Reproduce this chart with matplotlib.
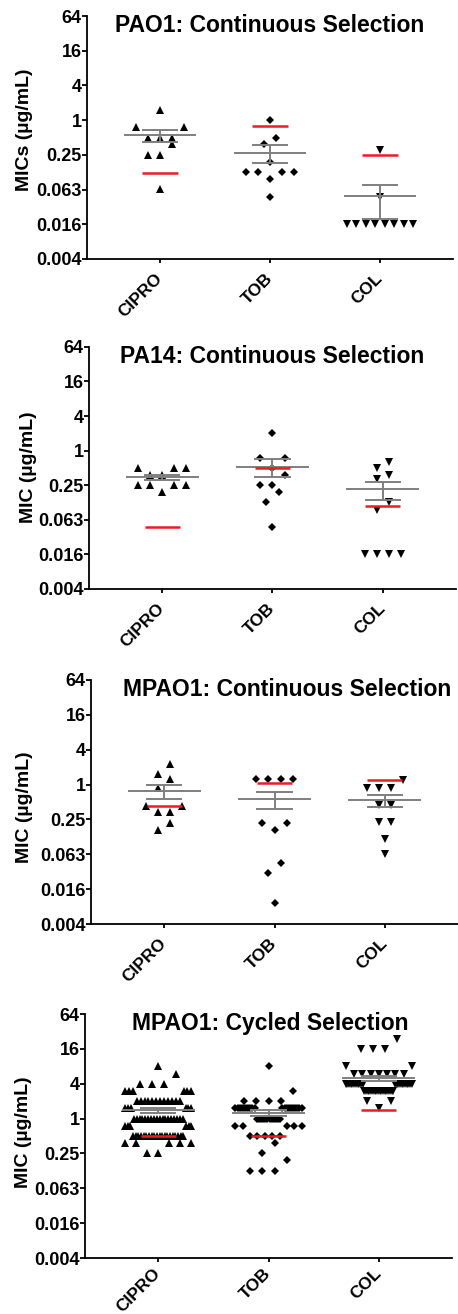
import numpy as np
import matplotlib
matplotlib.use("Agg")
import matplotlib.pyplot as plt
from matplotlib.ticker import FixedLocator, FixedFormatter, NullLocator
from matplotlib.transforms import ScaledTranslation

# ---- data (MIC values, ug/mL) ----
DRUGS = ["CIPRO", "TOB", "COL"]
Y_TICKS = [0.00390625, 0.015625, 0.0625, 0.25, 1, 4, 16, 64]
Y_TICK_LABELS = ["0.004", "0.016", "0.063", "0.25", "1", "4", "16", "64"]

TITLES = ["PAO1: Continuous Selection", "PA14: Continuous Selection",
          "MPAO1: Continuous Selection", "MPAO1: Cycled Selection"]
YLABELS = ["MICs (µg/mL)", "MIC (µg/mL)", "MIC (µg/mL)", "MIC (µg/mL)"]

PAO1_CIPRO = [1.5, 0.75, 0.75, 0.5, 0.5, 0.5, 0.38, 0.25, 0.25, 0.064]
PAO1_TOB = [1.0, 0.5, 0.38, 0.19, 0.125, 0.125, 0.125, 0.125, 0.094, 0.047]
PAO1_COL = [0.3, 0.047, 0.016, 0.016, 0.016, 0.016, 0.016, 0.016, 0.016, 0.016]
PAO1_REF = [0.12, 0.8, 0.25]

PA14_CIPRO = [0.5, 0.5, 0.5, 0.38, 0.38, 0.25, 0.25, 0.25, 0.25, 0.19]
PA14_TOB = [2.0, 0.75, 0.75, 0.5, 0.38, 0.25, 0.25, 0.19, 0.125, 0.047]
PA14_COL = [0.64, 0.5, 0.38, 0.32, 0.125, 0.094, 0.016, 0.016, 0.016, 0.016]
PA14_REF = [0.047, 0.5, 0.11]

MPAO1_CIPRO = [2.3, 1.5, 1.25, 0.86, 0.43, 0.43, 0.33, 0.33, 0.22, 0.165]
MPAO1_TOB = [1.25, 1.25, 1.25, 1.25, 0.22, 0.22, 0.165, 0.044, 0.03, 0.009]
MPAO1_COL = [1.2, 0.88, 0.88, 0.88, 0.44, 0.44, 0.23, 0.23, 0.114, 0.062]
MPAO1_REF = [0.43, 1.08, 1.22]

# cycled selection: MIC levels and how many isolates sit at each level
CYC_CIPRO_MIC = [8, 6, 4, 3, 2, 1.5, 1, 0.75, 0.5, 0.38, 0.25]
CYC_CIPRO_N = [1, 1, 3, 6, 12, 6, 18, 6, 20, 5, 2]
CYC_TOB_MIC = [8, 3, 2, 1.5, 1, 0.75, 0.5, 0.38, 0.25, 0.19, 0.125]
CYC_TOB_N = [1, 1, 4, 20, 12, 5, 5, 1, 1, 1, 3]
CYC_COL_MIC = [24, 16, 8, 6, 4, 3, 2, 1.5]
CYC_COL_N = [1, 3, 2, 7, 22, 18, 2, 1]
CYC_REF = [0.5, 0.5, 1.38]

# ---- layout ----
PANEL_RECTS = [
    [0.1900, 0.8029, 0.7991, 0.1849],
    [0.1943, 0.5518, 0.8013, 0.1842],
    [0.1987, 0.2968, 0.8013, 0.1857],
    [0.1856, 0.0426, 0.8013, 0.1857],
]
TITLE_X = [0.5, 0.5, 0.534, 0.505]
YLABEL_POS = [(-0.148, 0.53), (-0.142, 0.505), (-0.158, 0.48), (-0.144, 0.516)]
XLABEL_PAD = [9.5, 9.5, 9.5, 6.5]
MARKERS = [("^", 6.0), ("D", 3.9), ("v", 6.0)]
GREY = "#7f7f7f"
RED = "#ec1c24"

plt.rcParams["font.family"] = ["Liberation Sans", "DejaVu Sans"]
plt.rcParams["font.weight"] = "bold"
plt.rcParams["axes.labelweight"] = "bold"


def scatter_offsets(vals, step=0.11, half=0.30, join=0.62):
    """Prism-like column scatter: nearby values share a row, lowest in the middle."""
    logv = np.log2(vals)
    order = np.argsort(vals, kind="stable")
    offsets = np.zeros(len(vals))
    i = 0
    while i < len(order):
        start = logv[order[i]]
        j = i
        while j < len(order) and logv[order[j]] - start < join:
            j += 1
        idx = order[i:j]
        n = len(idx)
        gap = step if n < 2 else min(step, 2 * half / (n - 1))
        for k, p in enumerate(idx):
            if n % 2:
                slot = (k + 1) // 2 * (-1 if k % 2 else 1)
            else:
                slot = (k // 2 + 0.5) * (-1 if k % 2 == 0 else 1)
            offsets[p] = slot * gap
        i = j
    return offsets


def draw_panel(fig, ax, groups, refs, title, ylabel, title_x, ylabel_pos, xpad):
    for i, vals in enumerate(groups):
        vals = np.asarray(vals, dtype=float)
        marker, size = MARKERS[i]
        ax.plot(i + scatter_offsets(vals), vals, ls="none", marker=marker, ms=size,
                color="black", mew=0, zorder=3, clip_on=False)
        mean = vals.mean()
        sem = vals.std(ddof=1) / np.sqrt(len(vals))
        ax.hlines(mean, i - 0.33, i + 0.33, color=GREY, lw=1.4, zorder=4)
        ax.vlines(i, mean - sem, mean + sem, color=GREY, lw=1.4, zorder=4)
        ax.hlines([mean - sem, mean + sem], i - 0.165, i + 0.165, color=GREY, lw=1.4, zorder=4)
        ax.hlines(refs[i], i - 0.16, i + 0.16, color=RED, lw=1.8, zorder=5)

    ax.set_yscale("log", base=2)
    ax.set_ylim(Y_TICKS[0], Y_TICKS[-1])
    ax.set_xlim(-0.664, 2.664)
    ax.yaxis.set_major_locator(FixedLocator(Y_TICKS))
    ax.yaxis.set_major_formatter(FixedFormatter(Y_TICK_LABELS))
    ax.yaxis.set_minor_locator(NullLocator())
    ax.set_xticks(range(len(DRUGS)))
    ax.set_xticklabels(DRUGS, rotation=45, ha="right", va="center", rotation_mode="anchor")
    shift = ScaledTranslation(2.5 / 72, 0, fig.dpi_scale_trans)
    for label in ax.get_xticklabels():
        label.set_transform(label.get_transform() + shift)
    ax.tick_params(axis="y", length=3.5, width=1.3, labelsize=13, pad=0.5)
    ax.tick_params(axis="x", length=3, width=1.3, labelsize=12.5, pad=xpad)
    for side in ("top", "right"):
        ax.spines[side].set_visible(False)
    for side in ("left", "bottom"):
        ax.spines[side].set_linewidth(1.3)
    ax.set_ylabel(ylabel, fontsize=14)
    ax.yaxis.set_label_coords(*ylabel_pos)
    ax.text(title_x, 0.935, title, transform=ax.transAxes, ha="center", va="baseline",
            fontsize=16.5, fontweight="bold")


def main():
    panels = [
        ([PAO1_CIPRO, PAO1_TOB, PAO1_COL], PAO1_REF),
        ([PA14_CIPRO, PA14_TOB, PA14_COL], PA14_REF),
        ([MPAO1_CIPRO, MPAO1_TOB, MPAO1_COL], MPAO1_REF),
        ([np.repeat(CYC_CIPRO_MIC, CYC_CIPRO_N), np.repeat(CYC_TOB_MIC, CYC_TOB_N),
          np.repeat(CYC_COL_MIC, CYC_COL_N)], CYC_REF),
    ]
    fig = plt.figure(figsize=(4.58, 13.14), dpi=100)
    for k, (groups, refs) in enumerate(panels):
        ax = fig.add_axes(PANEL_RECTS[k])
        draw_panel(fig, ax, groups, refs, TITLES[k], YLABELS[k], TITLE_X[k],
                   YLABEL_POS[k], XLABEL_PAD[k])
    fig.savefig("out.png", dpi=100)
    plt.close(fig)


if __name__ == "__main__":
    main()
